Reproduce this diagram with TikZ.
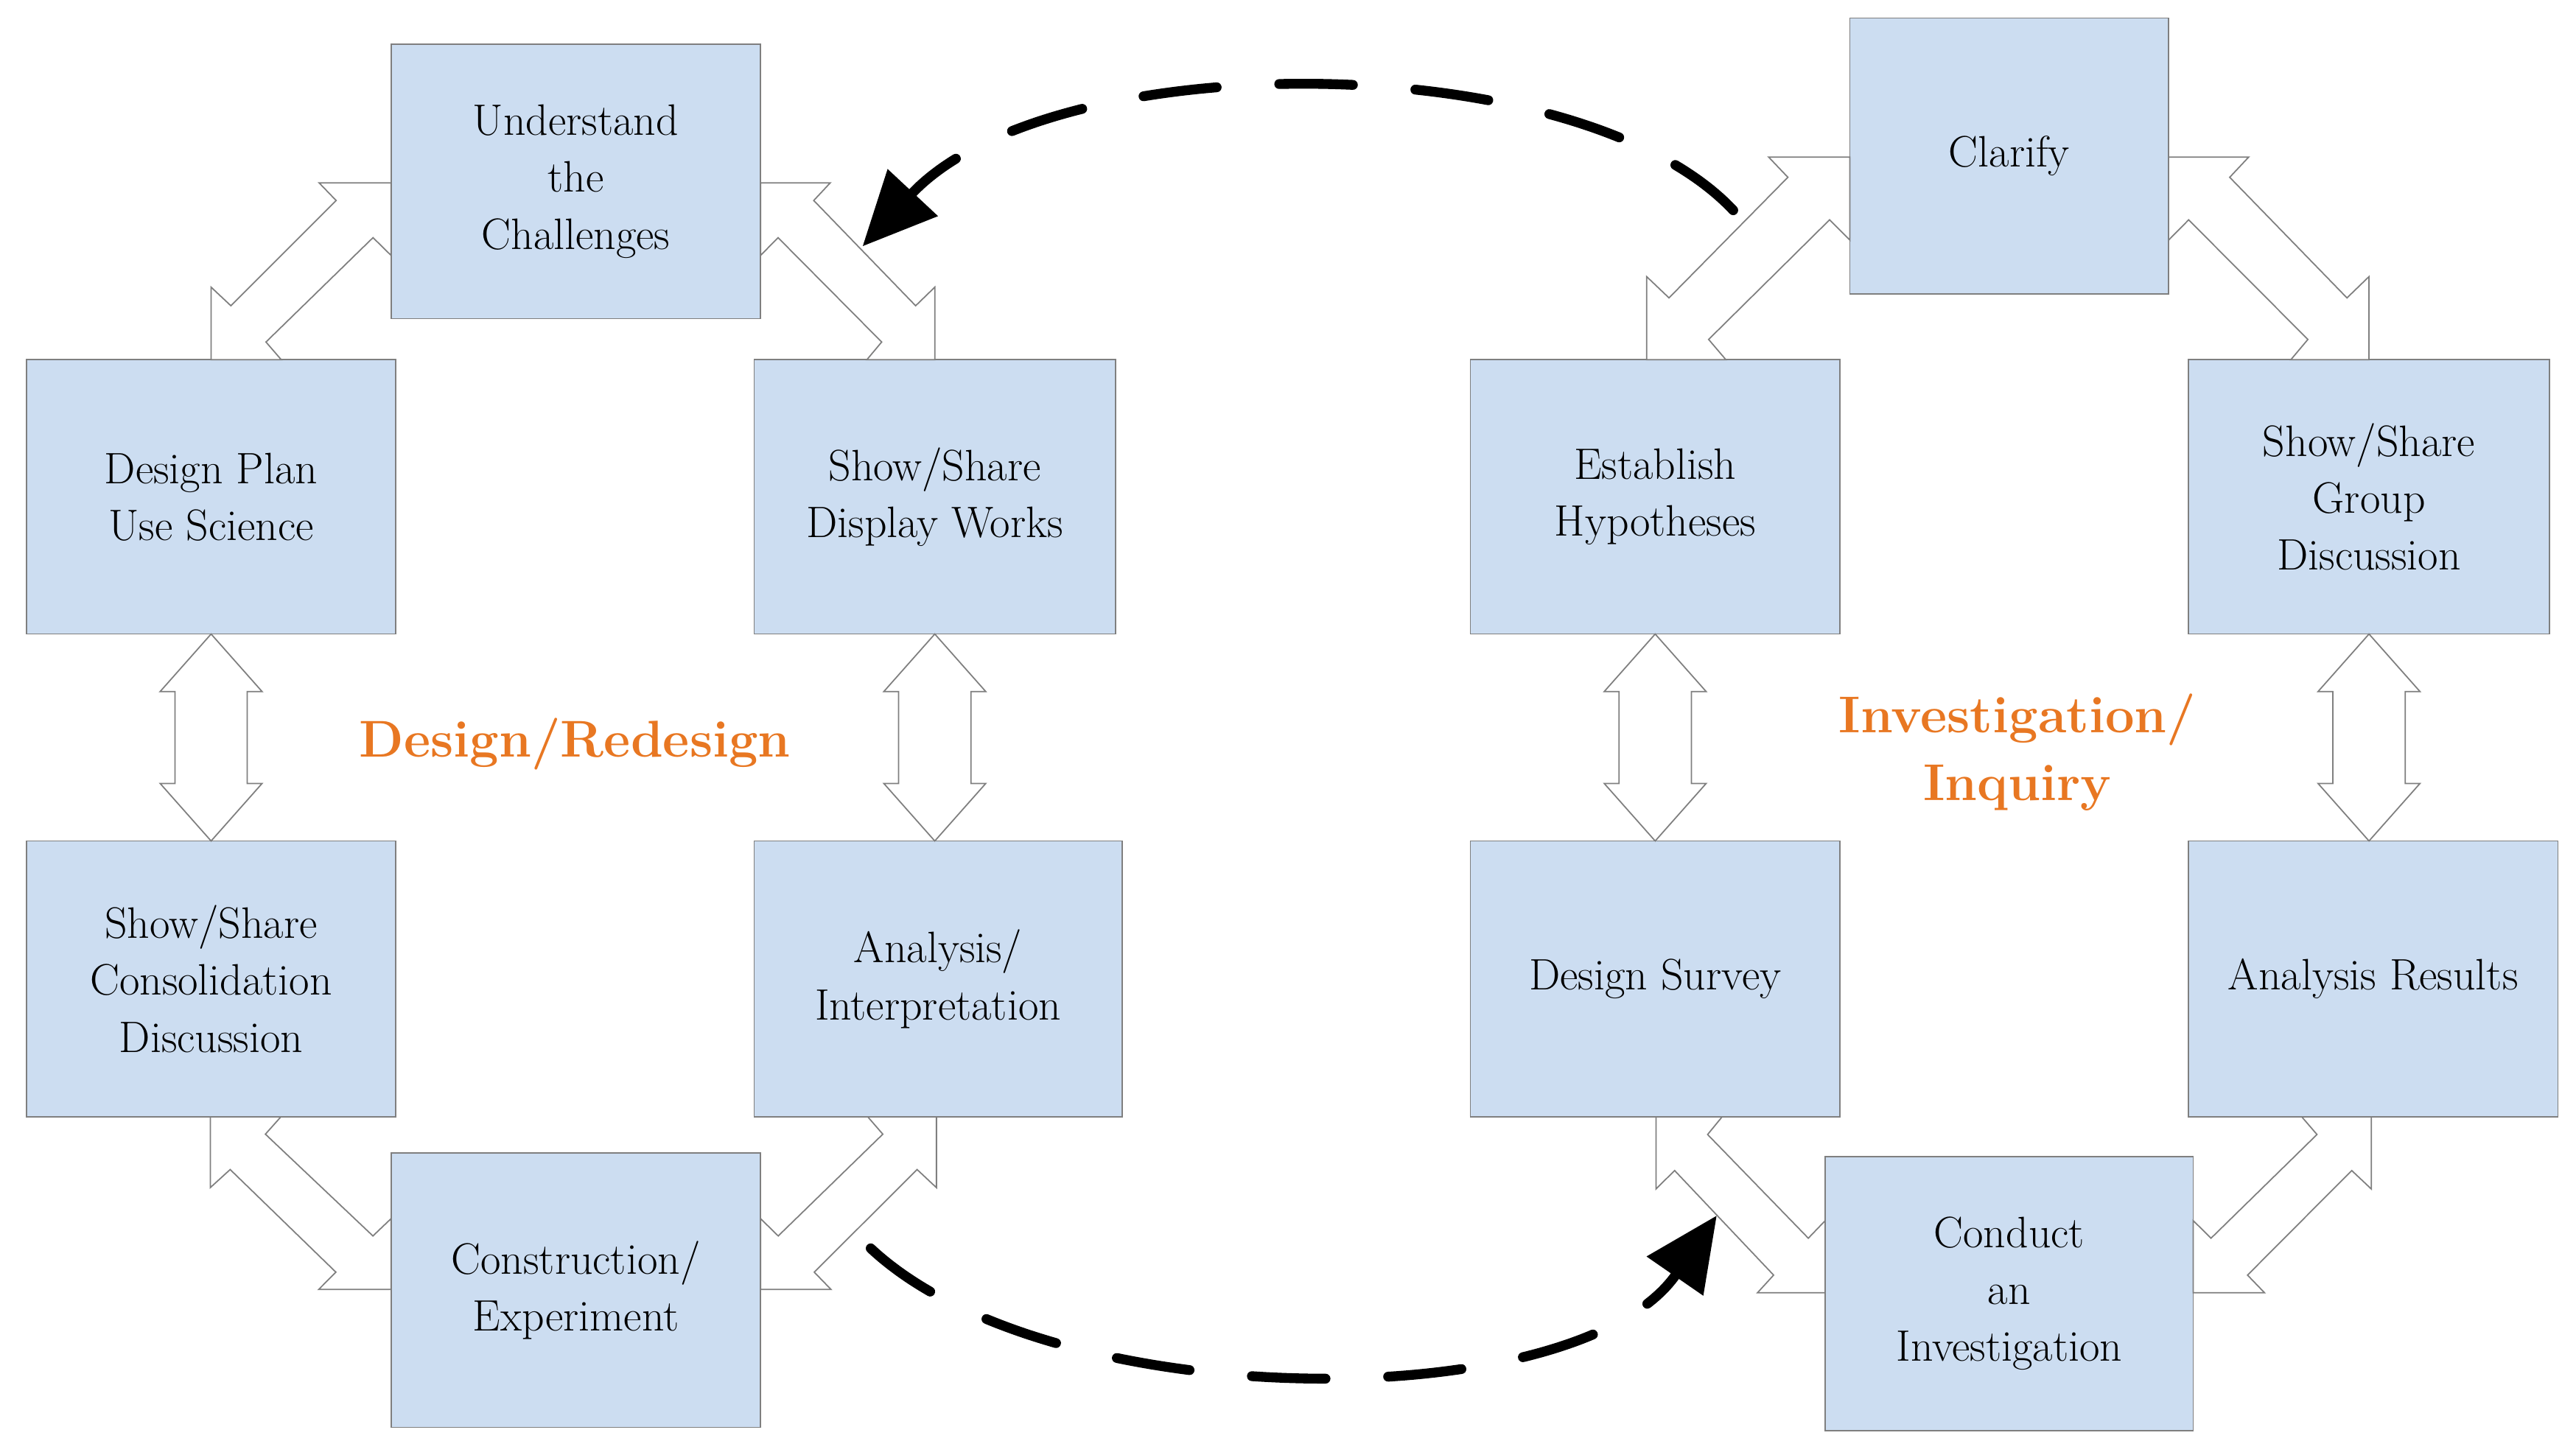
\documentclass[tikz,border=0pt]{standalone}
\usetikzlibrary{arrows.meta}
\definecolor{boxfill}{HTML}{CCDDF1}
\definecolor{boxline}{HTML}{7F7F7F}
\definecolor{lblorange}{HTML}{E87722}
\begin{document}
\begin{tikzpicture}[x=0.0223cm,y=-0.0223cm,
  box/.style 2 args={draw=boxline,fill=boxfill,line width=0.5pt,inner sep=0pt,outer sep=0pt,
    minimum width=#1*0.0223cm,minimum height=#2*0.0223cm,align=center,
    font=\fontsize{17}{22}\selectfont},
  blk/.style={draw=boxline,fill=white,line width=0.5pt},
  dashed arrow/.style={line width=3.8pt,line cap=round,dash pattern=on 1cm off 0.85cm,
    -{Triangle[length=1cm,width=0.9cm]}},
  phase/.style={text=lblorange,font=\fontsize{20}{26}\selectfont\bfseries,align=center}]
\useasboundingbox (0,0) rectangle (1568,885.4);

% left cycle
\node[box={225}{167}] (und) at (350.5,110.5) {Understand\\the\\Challenges};
\node[box={225}{167}] (plan) at (128.5,302.5) {Design Plan\\Use Science};
\node[box={220}{167}] (disp) at (569,302.5) {Show/Share\\Display Works};
\node[box={225}{168}] (cons) at (128.5,596) {Show/Share\\Consolidation\\Discussion};
\node[box={224}{168}] (anal) at (571,596) {Analysis/\\Interpretation};
\node[box={225}{167}] (constr) at (350.5,785.5) {Construction/\\Experiment};

% right cycle
\node[box={194}{168}] (clar) at (1223,95) {Clarify};
\node[box={225}{167}] (est) at (1007.5,302.5) {Establish\\Hypotheses};
\node[box={220}{167}] (grp) at (1442,302.5) {Show/Share\\Group\\Discussion};
\node[box={225}{168}] (surv) at (1007.5,596) {Design Survey};
\node[box={225}{168}] (res) at (1444.5,596) {Analysis Results};
\node[box={224}{167}] (cond) at (1223,787.5) {Conduct\\an\\Investigation};

\node[phase] (lt) at (350,453) {Design/Redesign};
\node[phase] (rt) at (1228,458) {Investigation/\\Inquiry};

% bent block arrows between boxes
\newcommand\bentarrow[3]{%
  \begin{scope}[shift={#1},xscale=#2,yscale=#3]
    \draw[blk] (-1,0) -- (-1,.41) -- (-.89,.305) -- (-.305,.9) -- (-.4,1) -- (0,1)
      -- (0,.59) -- (-.1,.69) -- (-.695,.1) -- (-.61,0) -- cycle;
  \end{scope}}
\bentarrow{(und.west |- plan.north)}{109.5}{-107.7}
\bentarrow{(und.east |- disp.north)}{-106}{-107.7}
\bentarrow{(constr.west |- cons.south)}{110}{105}
\bentarrow{(constr.east |- anal.south)}{-107}{105}
\bentarrow{(clar.west |- est.north)}{123.7}{-123.4}
\bentarrow{(clar.east |- grp.north)}{-122}{-123.4}
\bentarrow{(cond.west |- surv.south)}{103}{107}
\bentarrow{(cond.east |- res.south)}{-108.4}{107}

% vertical double block arrows
\newcommand\vdarrow[1]{%
  \begin{scope}[shift={(#1.south)}]
    \draw[blk] (0,0) -- (31,35) -- (22,35) -- (22,91) -- (31,91) -- (0,126)
      -- (-31,91) -- (-22,91) -- (-22,35) -- (-31,35) -- cycle;
  \end{scope}}
\vdarrow{plan}
\vdarrow{disp}
\vdarrow{est}
\vdarrow{grp}

% dashed links between the cycles
\coordinate (ts) at (1055,128);
\coordinate (te) at (525,150);
\coordinate (bs) at (530,760);
\coordinate (be) at (1045,740);
\draw[dashed arrow] (ts) .. controls (960,27) and (640,27) .. (te);
\draw[dashed arrow] (bs) .. controls (640,863) and (960,863) .. (be);
\end{tikzpicture}
\end{document}
